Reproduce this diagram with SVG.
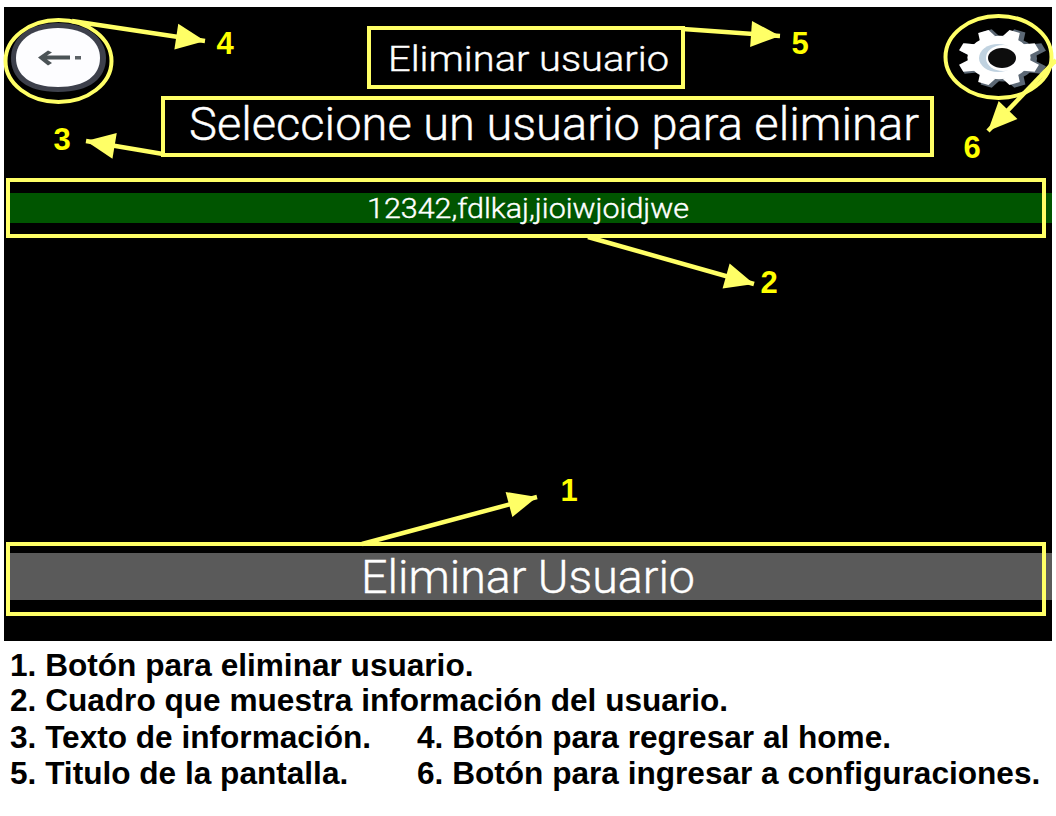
<svg xmlns="http://www.w3.org/2000/svg" width="1056" height="816" viewBox="0 0 1056 816">
<style>
.box{fill:none;stroke:#ffff66;stroke-width:4}
.arr{fill:none;stroke:#ffff66;stroke-width:4.500;marker-end:url(#ah)}
.num{font:bold 31px "Liberation Sans",Arial,sans-serif;fill:#ffff00;text-anchor:middle}
.scr{font-family:Roboto,"Noto Sans",sans-serif;font-weight:300;fill:#fff;stroke:#fff;stroke-width:0.400}
.leg{font:bold 31.600px "Liberation Sans",Arial,sans-serif;fill:#000}
</style>
<defs>
<marker id="ah" markerUnits="userSpaceOnUse" markerWidth="32" markerHeight="28" refX="29" refY="13" orient="auto" overflow="visible">
<path d="M0 0L29 13L0 26Z" fill="#ffff66"/>
</marker>
<filter id="soft" x="-10%" y="-10%" width="120%" height="120%"><feGaussianBlur stdDeviation="0.6"/></filter>
<g id="gearshape">
<ellipse cx="0" cy="0" rx="34" ry="34"/>
<path d="M-9 -32L-6 -44L6 -44L9 -32Z" transform="rotate(22.500)"/>
<path d="M-9 -32L-6 -44L6 -44L9 -32Z" transform="rotate(67.500)"/>
<path d="M-9 -32L-6 -44L6 -44L9 -32Z" transform="rotate(112.500)"/>
<path d="M-9 -32L-6 -44L6 -44L9 -32Z" transform="rotate(157.500)"/>
<path d="M-9 -32L-6 -44L6 -44L9 -32Z" transform="rotate(202.500)"/>
<path d="M-9 -32L-6 -44L6 -44L9 -32Z" transform="rotate(247.500)"/>
<path d="M-9 -32L-6 -44L6 -44L9 -32Z" transform="rotate(292.500)"/>
<path d="M-9 -32L-6 -44L6 -44L9 -32Z" transform="rotate(337.500)"/>
</g>
</defs>
<rect width="1056" height="816" fill="#fff"/>
<rect x="4" y="7" width="1048" height="634" fill="#000"/>
<g id="bar-info"><rect x="10" y="193" width="1042" height="30" fill="#005500"/><text class="scr" x="367" y="218" font-size="27.500" textLength="322" lengthAdjust="spacingAndGlyphs">12342,fdlkaj,jioiwjoidjwe</text></g>
<g id="bar-action"><rect x="10" y="553" width="1042" height="47" fill="#5a5a5a"/><text class="scr" x="361" y="593" font-size="47" textLength="334" lengthAdjust="spacingAndGlyphs">Eliminar Usuario</text></g>
<g id="title"><text class="scr" x="388" y="71" font-size="35.500" textLength="281" lengthAdjust="spacingAndGlyphs">Eliminar usuario</text></g>
<g id="info"><text class="scr" x="189" y="140" font-size="46" textLength="730" lengthAdjust="spacingAndGlyphs">Seleccione un usuario para eliminar</text></g>
<g id="back-button">
<g filter="url(#soft)">
<path d="M58 23C90 23 106 40 106 58C106 78 90 92 58 92C26 92 11 78 11 58C11 40 26 23 58 23Z" fill="#3c404c"/>
<path d="M58 28C86 28 100 42 100 58C100 75 86 87 58 87C30 87 16 75 16 58C16 42 30 28 58 28Z" fill="#fdfdff"/>
<path d="M38 57.500L48 50.500L52 52.500L47 55.500H70V59.500H47L52 63L48 65.500Z" fill="#4c5256"/>
<rect x="75" y="56" width="6" height="3.500" fill="#5c6266"/>
</g>
</g>
<g id="settings-button">
<g filter="url(#soft)">
<use href="#gearshape" transform="translate(1003,58.500) scale(1,0.68)" fill="#5c6874"/>
<use href="#gearshape" transform="translate(999,57.500) scale(0.93,0.64)" fill="#fff"/>
<ellipse cx="998" cy="58" rx="19" ry="14" fill="#c0d2e0"/>
<ellipse cx="1003" cy="58" rx="17" ry="13" fill="#fff"/>
<ellipse cx="1002" cy="58" rx="14" ry="10" fill="#0c0c10"/>
</g>
</g>
<g id="highlights">
<ellipse class="box" cx="58.500" cy="61" rx="53" ry="41"/>
<ellipse class="box" cx="998.500" cy="57" rx="53" ry="41"/>
<rect class="box" x="369" y="28" width="314" height="59"/>
<rect class="box" x="163" y="98" width="769" height="57"/>
<rect class="box" x="8" y="180" width="1036" height="56"/>
<rect class="box" x="8" y="544" width="1036" height="70"/>
</g>
<g id="connectors">
<path class="arr" d="M72 21L205 41"/>
<path class="arr" d="M683 29L780 36"/>
<path class="arr" d="M163 154L86 141"/>
<path class="arr" d="M1056 60L988 131"/>
<path class="arr" d="M588 237L754 284"/>
<path class="arr" d="M362 544L537 497"/>
</g>
<g id="numbers">
<text class="num" x="225" y="54">4</text>
<text class="num" x="800" y="54">5</text>
<text class="num" x="62" y="150">3</text>
<text class="num" x="972" y="158">6</text>
<text class="num" x="769" y="293">2</text>
<text class="num" x="569" y="501">1</text>
</g>
<g id="legend">
<text class="leg" x="10" y="676">1. Botón para eliminar usuario.</text>
<text class="leg" x="10" y="711">2. Cuadro que muestra información del usuario.</text>
<text class="leg" x="10" y="748">3. Texto de información.</text>
<text class="leg" x="417" y="748">4. Botón para regresar al home.</text>
<text class="leg" x="10" y="784">5. Titulo de la pantalla.</text>
<text class="leg" x="417" y="784">6. Botón para ingresar a configuraciones.</text>
</g>
</svg>
